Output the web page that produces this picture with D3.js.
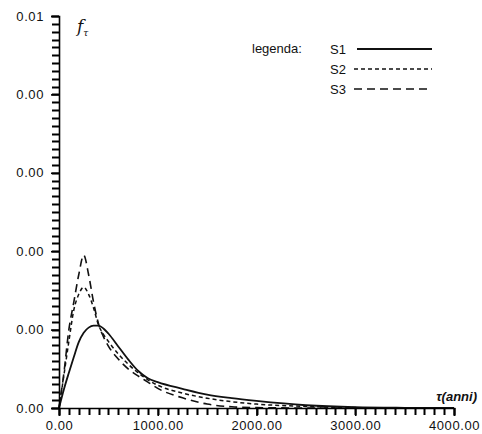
<!DOCTYPE html>
<html>
<head>
<meta charset="utf-8">
<script src="https://cdn.jsdelivr.net/npm/d3@7"></script>
<style>
  body { margin: 0; background: #fff; }
  svg { display: block; }
</style>
</head>
<body>
<div id="chart"></div>
<script>
// time grid (anni) shared by the three series
const tGrid = [0, 50, 100, 150, 200, 250, 300, 350, 400, 450, 500, 600, 700, 800, 900, 1000, 1250, 1500, 1750, 2000, 2500, 3000, 3500, 4000];
const s1 = [0, 0.00048, 0.0009, 0.0013, 0.00168, 0.00192, 0.00205, 0.0021, 0.0021, 0.00203, 0.0019, 0.00157, 0.00124, 0.00095, 0.00076, 0.00066, 0.00049, 0.00034, 0.00025, 0.00018, 0.00007, 0.00002, 0.000005, 0];
const s2 = [0, 0.00084, 0.0017, 0.0025, 0.0029, 0.00308, 0.0029, 0.00255, 0.00212, 0.00188, 0.0017, 0.00138, 0.00112, 0.0009, 0.00072, 0.00058, 0.00038, 0.00025, 0.00016, 0.0001, 0.00004, 0.00001, 0, 0];
const s3 = [0, 0.0009, 0.002, 0.0027, 0.0034, 0.0039, 0.0034, 0.0027, 0.00215, 0.00182, 0.00158, 0.00125, 0.001, 0.00082, 0.00066, 0.0005, 0.00026, 0.0001, 0.00003, 0.00001, 0, 0, 0, 0];

const seriesNames = ["S1", "S2", "S3"];
const xTicks = [0, 1000, 2000, 3000, 4000];
const yTicks = [0, 0.002, 0.004, 0.006, 0.008, 0.01];
const xMinor = d3.range(0, 4001, 100);
const yMinor = d3.range(0, 51).map(i => i * 0.0002);

const svg = d3.select("#chart").append("svg")
  .attr("width", 482)
  .attr("height", 434);

const x = d3.scaleLinear().domain([0, 4000]).range([59, 454]);
const y = d3.scaleLinear().domain([0, 0.01]).range([408, 16]);
// the original plot truncates to two decimals
const fmt = v => (Math.floor(v * 100 + 1e-9) / 100).toFixed(2);
const font = "'Liberation Sans', Arial, sans-serif";

// curves
const dashes = ["", "4,3", "8,5"];
const widths = [1.8, 1.5, 1.6];
const lineGen = d3.line()
  .x((d, i) => x(tGrid[i]))
  .y(d => y(d))
  .curve(d3.curveMonotoneX);

[s1, s2, s3].forEach((s, i) => {
  svg.append("path")
    .datum(s)
    .attr("fill", "none")
    .attr("stroke", "#111")
    .attr("stroke-width", widths[i])
    .attr("stroke-dasharray", dashes[i])
    .attr("d", lineGen);
});

// axes with major ticks and labels
const yAxis = svg.append("g")
  .attr("transform", "translate(59,0)")
  .call(d3.axisLeft(y).tickValues(yTicks).tickSize(8).tickPadding(7).tickFormat(fmt));
const xAxis = svg.append("g")
  .attr("transform", "translate(0,408)")
  .call(d3.axisBottom(x).tickValues(xTicks).tickSize(8).tickPadding(5).tickFormat(fmt));

[yAxis, xAxis].forEach(g => {
  g.selectAll("path, line").attr("stroke", "#000").attr("stroke-width", 1.6);
  g.selectAll("text")
    .attr("font-family", font)
    .attr("font-size", 13)
    .attr("letter-spacing", 0.6)
    .attr("fill", "#111");
});

// minor ticks
svg.append("path")
  .attr("d", yMinor.map(d => `M52,${Math.round(y(d)) + 0.5}H59`).join(""))
  .attr("fill", "none")
  .attr("stroke", "#000")
  .attr("stroke-width", 2);
svg.append("path")
  .attr("d", xMinor.map(d => `M${Math.round(x(d)) + 0.5},408V415`).join(""))
  .attr("fill", "none")
  .attr("stroke", "#000")
  .attr("stroke-width", 2);

// axis titles
const fLabel = svg.append("text")
  .attr("x", 77).attr("y", 32)
  .attr("font-family", "'DejaVu Serif', serif")
  .attr("font-style", "italic")
  .attr("font-size", 17)
  .attr("fill", "#111")
  .text("f");
fLabel.append("tspan").attr("dy", 4).attr("font-size", 9).text("τ");

svg.append("text")
  .attr("x", 477).attr("y", 401)
  .attr("text-anchor", "end")
  .attr("font-family", font)
  .attr("font-style", "italic")
  .attr("font-size", 13)
  .attr("font-weight", "bold")
  .attr("fill", "#111")
  .text("τ(anni)");

// legend
svg.append("text")
  .attr("x", 252).attr("y", 53)
  .attr("font-family", font)
  .attr("font-size", 13)
  .attr("fill", "#111")
  .text("legenda:");

const legend = svg.selectAll(".legend")
  .data(seriesNames)
  .enter()
  .append("g")
  .attr("class", "legend")
  .attr("transform", (d, i) => `translate(330,${49 + i * 20})`);

legend.append("text")
  .attr("y", 4.5)
  .attr("font-family", font)
  .attr("font-size", 13)
  .attr("fill", "#111")
  .text(d => d);

legend.append("line")
  .attr("x1", (d, i) => i === 0 ? 27 : 24)
  .attr("x2", 102)
  .attr("stroke", "#111")
  .attr("stroke-width", (d, i) => widths[i])
  .attr("stroke-dasharray", (d, i) => dashes[i]);
</script>
</body>
</html>
